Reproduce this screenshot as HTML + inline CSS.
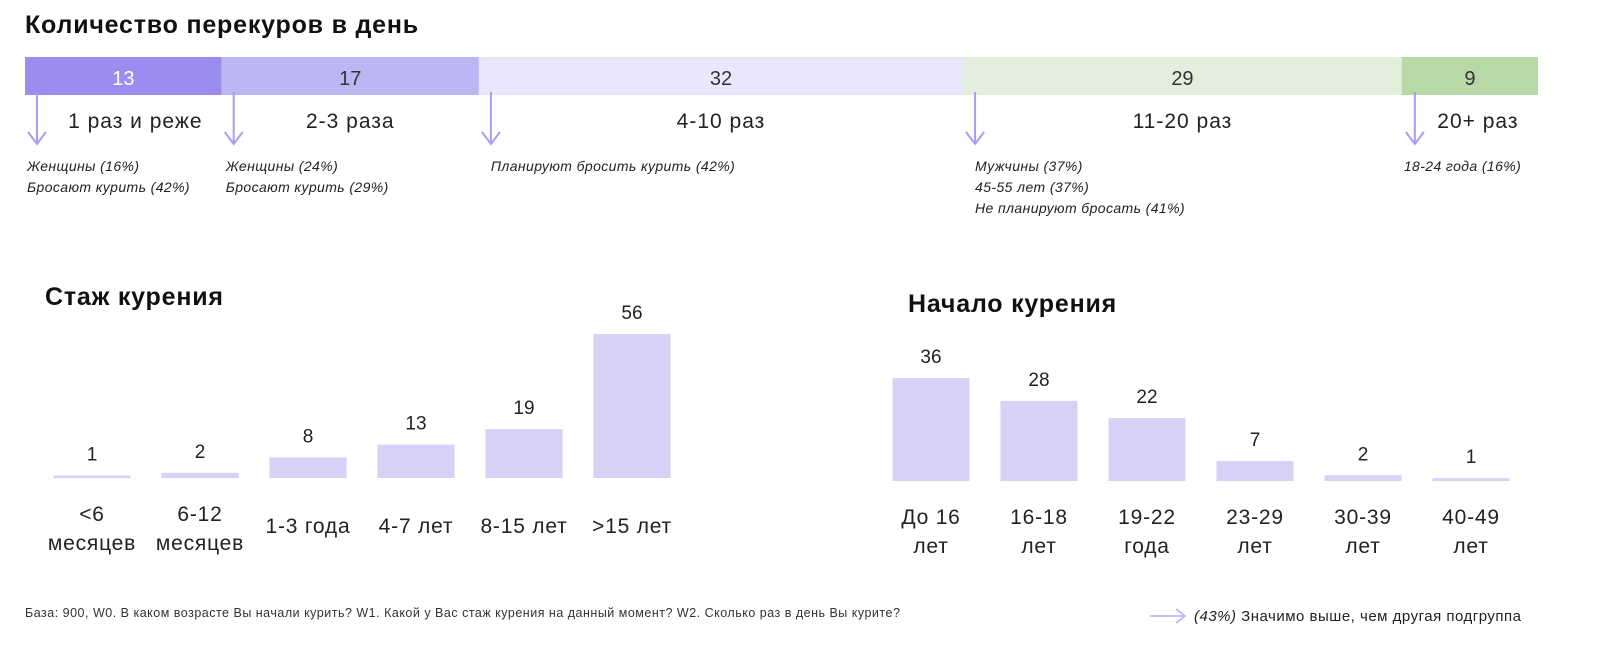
<!DOCTYPE html>
<html><head><meta charset="utf-8"><style>
body{margin:0;background:#fff;width:1600px;height:659px;overflow:hidden;font-family:"Liberation Sans",sans-serif}
svg text{font-family:"Liberation Sans",sans-serif}
</style></head><body>
<svg id="s" width="1600" height="659">
<text x="25" y="33" font-size="25" font-weight="bold" fill="#111" letter-spacing="0.8">Количество перекуров в день</text>
<text x="45" y="305" font-size="25" font-weight="bold" fill="#111" letter-spacing="0.8">Стаж курения</text>
<text x="908" y="312" font-size="25" font-weight="bold" fill="#111" letter-spacing="0.8">Начало курения</text>
<text x="25" y="617" font-size="12.5" fill="#333" letter-spacing="0.5">База: 900, W0. В каком возрасте Вы начали курить? W1. Какой у Вас стаж курения на данный момент? W2. Сколько раз в день Вы курите?</text>
<g>
<line x1="1150" y1="616" x2="1184" y2="616" stroke="#c4bdf7" stroke-width="2"/>
<polyline points="1176,609 1185,616 1176,623" fill="none" stroke="#c4bdf7" stroke-width="2"/>
<text x="1194" y="621" font-size="15" letter-spacing="0.5" fill="#222"><tspan font-style="italic">(43%)</tspan>  Значимо выше, чем другая подгруппа</text>
</g>
<g id="stack"></g><g id="left"></g><g id="right"></g>
</svg>
<script>
const segValues=[13,17,32,29,9];
const segLabels=["1 раз и реже","2-3 раза","4-10 раз","11-20 раз","20+ раз"];
const segNotes=[["Женщины (16%)","Бросают курить (42%)"],["Женщины (24%)","Бросают курить (29%)"],["Планируют бросить курить (42%)"],["Мужчины (37%)","45-55 лет (37%)","Не планируют бросать (41%)"],["18-24 года (16%)"]];
const expCats=[["<6","месяцев"],["6-12","месяцев"],["1-3 года"],["4-7 лет"],["8-15 лет"],[">15 лет"]];
const expValues=[1,2,8,13,19,56];
const startCats=[["До 16","лет"],["16-18","лет"],["19-22","года"],["23-29","лет"],["30-39","лет"],["40-49","лет"]];
const startValues=[36,28,22,7,2,1];
const NS="http://www.w3.org/2000/svg";
function mk(p,t,a,txt){const e=document.createElementNS(NS,t);for(const k in a)e.setAttribute(k,a[k]);if(txt!=null)e.textContent=txt;p.appendChild(e);return e;}
const segColors=["#9b8def","#bdb6f5","#e9e7fb","#e3efdc","#b8d9a5"];
const stack=document.getElementById('stack');
const total=segValues.reduce((a,b)=>a+b,0);
const sx=v=>25+v/total*1513;
let acc=0;
segValues.forEach((v,i)=>{
 const x0=sx(acc),x1=sx(acc+v);acc+=v;
 const r=mk(stack,'rect',{x:x0,y:57,width:x1-x0,height:38,fill:segColors[i]});
 
 
 const t=mk(stack,'text',{x:(x0+x1)/2,y:85,'font-size':20,'text-anchor':'middle',fill:i==0?'#fff':'#333'},v);
 
 
 const l=mk(stack,'text',{x:(x0+x1)/2+(i==0?12:(i==4?8:0)),y:128,'font-size':21,'letter-spacing':1,'text-anchor':'middle',fill:'#222'},segLabels[i]);
 
 
 const ax=x0+12+(i==4?1:0);
 const g=mk(stack,'g',{stroke:'#a99cf5','stroke-width':2,fill:'none'});
 
 
 mk(g,'line',{x1:ax,y1:92,x2:ax,y2:143});
 mk(g,'polyline',{points:`${ax-9},132 ${ax},144 ${ax+9},132`});
 segNotes[i].forEach((n,j)=>{
  const nt=mk(stack,'text',{x:x0+2+(i==1?2:0)+(i==2?10:0)+(i==3?10:0),y:171+j*21,'font-size':14,'letter-spacing':0.4,'font-style':'italic',fill:'#222'},n);
  
  
 });
});
function bars(id,cats,vals,c0,step,base,unit){
 const g=document.getElementById(id);
 vals.forEach((v,i)=>{
  const cx=c0+i*step,h=Math.max(v*unit,2.5);
  const r=mk(g,'rect',{x:cx-38.5,y:base-h,width:77,height:h,fill:'#d6d1f7'});
  
  
  const t=mk(g,'text',{x:cx,y:base-h-15,'font-size':19,'text-anchor':'middle',fill:'#222'},v);
  
  
  cats[i].forEach((c,j)=>{
   const yy=cats[i].length==1?base+55:base+43+j*29;
   const ct=mk(g,'text',{x:cx,y:yy,'font-size':21,'letter-spacing':0.8,'text-anchor':'middle',fill:'#222'},c);
   
   
  });
 });
}
bars('left',expCats,expValues,92,108,478,2.57);
bars('right',startCats,startValues,931,108,481,2.86);
</script>
</body></html>
